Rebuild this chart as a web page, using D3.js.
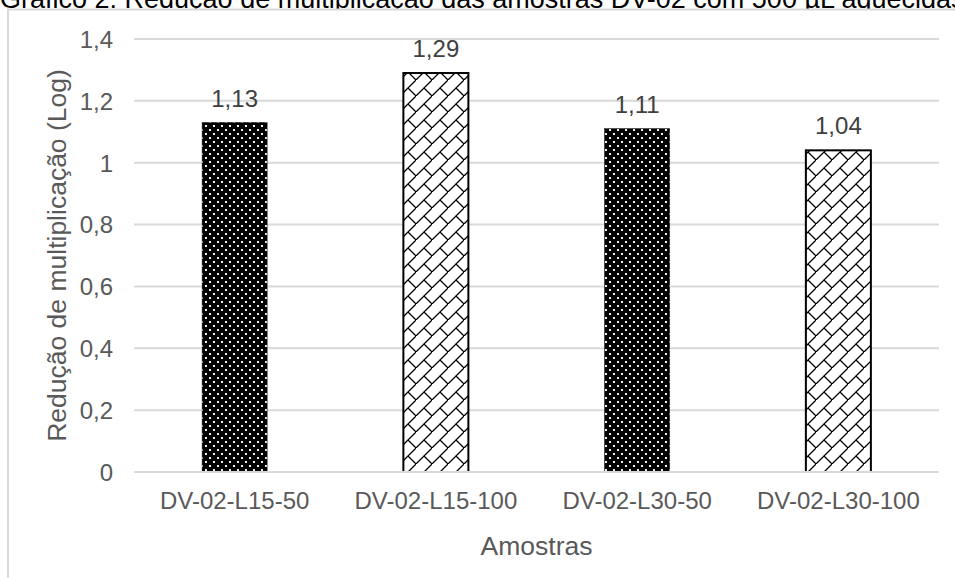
<!DOCTYPE html>
<html>
<head>
<meta charset="utf-8">
<script src="https://cdn.jsdelivr.net/npm/d3@7"></script>
<style>
  html, body { margin: 0; padding: 0; background: #fff; overflow: hidden; }
  svg { display: block; font-family: "Liberation Sans", Arial, sans-serif; }
</style>
</head>
<body>
<svg id="chart" width="955" height="578"></svg>
<script>
// Chart data
const categories = ["DV-02-L15-50", "DV-02-L15-100", "DV-02-L30-50", "DV-02-L30-100"];
const values = [1.13, 1.29, 1.11, 1.04];
const valueLabels = ["1,13", "1,29", "1,11", "1,04"];
const fills = ["dots", "brick", "dots", "brick"];
const yTicks = [0, 0.2, 0.4, 0.6, 0.8, 1, 1.2, 1.4];
const yTickLabels = ["0", "0,2", "0,4", "0,6", "0,8", "1", "1,2", "1,4"];
const titleText = "Gráfico 2: Redução de multiplicação das amostras DV-02 com 500 µL aquecidas";
const yTitle = "Redução de multiplicação (Log)";
const xTitle = "Amostras";

const svg = d3.select("#chart");
const plot = { left: 134, right: 939, top: 39, bottom: 472 };

const x = d3.scaleBand()
  .domain(categories)
  .range([plot.left, plot.right])
  .paddingInner(0.677)
  .paddingOuter(0.3385);

const y = d3.scaleLinear()
  .domain([0, 1.4])
  .range([plot.bottom, plot.top]);

// Fill patterns
const defs = svg.append("defs");
const dots = defs.append("pattern")
  .attr("id", "dots")
  .attr("patternUnits", "userSpaceOnUse")
  .attr("width", 8).attr("height", 8);
dots.append("rect").attr("width", 8).attr("height", 8).attr("fill", "#000");
dots.append("rect").attr("x", 1).attr("y", 1).attr("width", 2).attr("height", 2).attr("fill", "#f2f2f2");
dots.append("rect").attr("x", 5).attr("y", 5).attr("width", 2).attr("height", 2).attr("fill", "#f2f2f2");

const brick = defs.append("pattern")
  .attr("id", "brick")
  .attr("patternUnits", "userSpaceOnUse")
  .attr("width", 16).attr("height", 16);
brick.append("rect").attr("width", 16).attr("height", 16).attr("fill", "#fff");
brick.append("path")
  .attr("d", "M16,0 L0,16 M8,8 L16,16 M17,-1 L15,1 M-1,17 L1,15")
  .attr("stroke", "#000").attr("stroke-width", 1.25).attr("fill", "none");

// Title sits above the chart area, partly hidden behind it
svg.append("text")
  .attr("x", 0).attr("y", 7.5)
  .attr("font-size", 27).attr("fill", "#000")
  .text(titleText);

// Chart area
svg.append("rect")
  .attr("x", 8).attr("y", 9.5)
  .attr("width", 1000).attr("height", 1000)
  .attr("fill", "#fff")
  .attr("stroke", "#d9d9d9").attr("stroke-width", 2);

// Gridlines
svg.append("g")
  .selectAll("line")
  .data(yTicks.filter(d => d > 0))
  .join("line")
  .attr("x1", plot.left).attr("x2", plot.right)
  .attr("y1", d => y(d)).attr("y2", d => y(d))
  .attr("stroke", "#d9d9d9").attr("stroke-width", 2);

// Y axis tick labels
const yAxis = d3.axisLeft(y)
  .tickValues(yTicks)
  .tickFormat((d, i) => yTickLabels[i])
  .tickSize(0)
  .tickPadding(21);
const gy = svg.append("g")
  .attr("transform", `translate(${plot.left},0)`)
  .call(yAxis);
gy.select(".domain").remove();
gy.selectAll("text")
  .attr("font-family", "'Liberation Sans', Arial, sans-serif")
  .attr("font-size", 24).attr("fill", "#595959")
  .attr("dy", "0.35em");

// Bars
const bw = x.bandwidth();
svg.append("g")
  .selectAll("rect")
  .data(values)
  .join("rect")
  .attr("x", (d, i) => x(categories[i]))
  .attr("y", d => y(d))
  .attr("width", bw)
  .attr("height", d => y(0) - y(d))
  .attr("fill", (d, i) => `url(#${fills[i]})`)
  .attr("stroke", "#000")
  .attr("stroke-width", (d, i) => fills[i] === "brick" ? 2 : 0.5);

// Value labels
svg.append("g")
  .selectAll("text")
  .data(values)
  .join("text")
  .attr("x", (d, i) => x(categories[i]) + bw / 2)
  .attr("y", d => y(d) - 16)
  .attr("text-anchor", "middle")
  .attr("font-size", 24).attr("fill", "#404040")
  .text((d, i) => valueLabels[i]);

// X axis
const xAxis = d3.axisBottom(x).tickSize(0).tickPadding(20);
const gx = svg.append("g")
  .attr("transform", `translate(0,${plot.bottom})`)
  .call(xAxis);
gx.select(".domain")
  .attr("d", `M${plot.left},0H${plot.right}`)
  .attr("stroke", "#d9d9d9").attr("stroke-width", 2);
gx.selectAll("text")
  .attr("font-family", "'Liberation Sans', Arial, sans-serif")
  .attr("font-size", 24).attr("fill", "#595959")
  .attr("dy", "0.71em");

// Axis titles
svg.append("text")
  .attr("x", (plot.left + plot.right) / 2).attr("y", 555)
  .attr("text-anchor", "middle")
  .attr("font-size", 26.5).attr("fill", "#595959")
  .text(xTitle);

svg.append("text")
  .attr("transform", `translate(66,${(plot.top + plot.bottom) / 2}) rotate(-90)`)
  .attr("text-anchor", "middle")
  .attr("font-size", 26.5).attr("fill", "#595959")
  .text(yTitle);
</script>
</body>
</html>
